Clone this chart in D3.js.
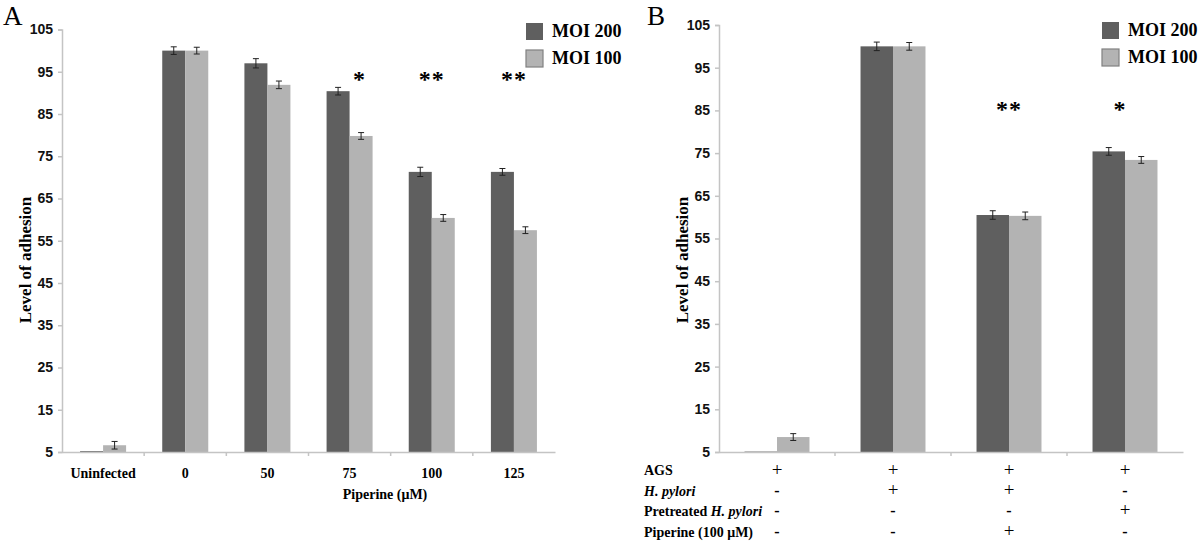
<!DOCTYPE html>
<html lang="en">
<head>
<meta charset="utf-8">
<title>Level of adhesion</title>
<script src="https://cdn.jsdelivr.net/npm/d3@7"></script>
<style>
  body { margin: 0; background: #fff; }
  svg { display: block; font-family: "Liberation Serif", "Times New Roman", serif; }
  .tick text { font-weight: bold; font-size: 14px; fill: #111; }
</style>
</head>
<body>
<script>
// panel A data
var catsA = ["Uninfected", "0", "50", "75", "100", "125"];
var moi200A = [5.2, 100, 97, 90.4, 71.3, 71.3];
var moi100A = [6.6, 100, 91.9, 79.8, 60.4, 57.5];
var err200A = [0, 0.9, 1.1, 0.9, 1.1, 0.8];
var err100A = [0.9, 0.8, 0.9, 0.8, 0.8, 0.8];
var starsA = ["", "", "", "*", "**", "**"];

// panel B data
var catsB = ["c1", "c2", "c3", "c4"];
var moi200B = [5.1, 100, 60.5, 75.4];
var moi100B = [8.5, 100, 60.3, 73.4];
var err200B = [0, 1, 1, 0.9];
var err100B = [0.8, 0.9, 0.9, 0.8];
var starsB = ["", "", "**", "*"];
var rowNames = ["AGS", "H. pylori", "Pretreated H. pylori", "Piperine (100 \u03bcM)"];
var rowMarks = [
  ["+", "+", "+", "+"],
  ["-", "+", "+", "-"],
  ["-", "-", "-", "+"],
  ["-", "-", "+", "-"]
];

var yTicks = [5, 15, 25, 35, 45, 55, 65, 75, 85, 95, 105];
var series = ["MOI 200", "MOI 100"];
var colors = ["#5f5f5f", "#b3b3b3"];

var svg = d3.select("body").append("svg")
  .attr("width", 1200).attr("height", 541);

function panel(o) {
  var x = d3.scaleBand().domain(o.cats).range([o.x0, o.x1]);
  var y = d3.scaleLinear().domain([5, 105]).range([452, o.yTop]);
  var bw = x.bandwidth() * 0.28;
  var g = svg.append("g");

  // y axis
  var ya = g.append("g").attr("transform", "translate(" + o.x0 + ",0)")
    .call(d3.axisLeft(y).tickValues(yTicks).tickSize(4).tickPadding(5));
  ya.selectAll("line, path").attr("stroke", "#c4c4c4").attr("stroke-width", 1.5);

  // bars
  o.vals.forEach(function(vals, s) {
    g.selectAll(null).data(vals).enter().append("rect")
      .attr("x", function(d, i) { return x(o.cats[i]) + x.bandwidth() / 2 - bw + s * bw; })
      .attr("y", function(d) { return y(d); })
      .attr("width", bw)
      .attr("height", function(d) { return Math.max(1, y(5) - y(d)); })
      .attr("fill", colors[s]);
  });

  // error bars
  o.vals.forEach(function(vals, s) {
    vals.forEach(function(v, i) {
      var e = o.errs[s][i];
      if (!e) return;
      var cx = x(o.cats[i]) + x.bandwidth() / 2 - bw / 2 + s * bw;
      g.append("path")
        .attr("d", "M" + cx + "," + y(v - e) + "V" + y(v + e) +
          "M" + (cx - 3) + "," + y(v + e) + "H" + (cx + 3) +
          "M" + (cx - 3) + "," + y(v - e) + "H" + (cx + 3))
        .attr("stroke", "#222").attr("stroke-width", 1).attr("fill", "none");
    });
  });

  // x axis
  var xa = g.append("g").attr("transform", "translate(0,452)")
    .call(d3.axisBottom(x).tickSize(0).tickFormat(""));
  xa.selectAll("path").attr("stroke", "#c4c4c4").attr("stroke-width", 1.5);
  xa.selectAll(".tick").remove();
  xa.selectAll(".sep").data(o.cats.slice(1)).enter().append("line")
    .attr("x1", function(d) { return x(d); }).attr("x2", function(d) { return x(d); })
    .attr("y1", 0).attr("y2", 4)
    .attr("stroke", "#c4c4c4").attr("stroke-width", 1.5);

  // stars
  g.selectAll(null).data(o.stars).enter().append("text")
    .attr("x", function(d, i) { return x(o.cats[i]) + x.bandwidth() / 2 + (d === "*" ? o.starDx : 0); })
    .attr("y", o.starY)
    .attr("text-anchor", "middle")
    .attr("font-size", 24).attr("font-weight", "bold")
    .attr("letter-spacing", 1)
    .text(function(d) { return d; });

  // legend
  series.forEach(function(name, s) {
    g.append("rect")
      .attr("x", o.legX).attr("y", o.legY + s * 27)
      .attr("width", 17).attr("height", 17)
      .attr("fill", colors[s])
      .attr("stroke", s ? "#808080" : "none").attr("stroke-width", 1.2);
    g.append("text")
      .attr("x", o.legX + 26).attr("y", o.legY + s * 27 + 14)
      .attr("font-size", 18).attr("font-weight", "bold")
      .text(name);
  });

  // panel letter
  g.append("text").attr("x", o.letterX).attr("y", 25)
    .attr("font-size", 27).text(o.letter);

  // y title
  g.append("text")
    .attr("transform", "translate(" + o.titleX + ",260) rotate(-90)")
    .attr("text-anchor", "middle")
    .attr("font-size", 17).attr("font-weight", "bold")
    .text("Level of adhesion");

  return x;
}

var xA = panel({
  cats: catsA, x0: 62, x1: 555, yTop: 29.5,
  vals: [moi200A, moi100A], errs: [err200A, err100A],
  stars: starsA, starY: 87, starDx: 10,
  legX: 526, legY: 23, letter: "A", letterX: 3, titleX: 31
});

svg.append("g").selectAll("text").data(catsA).enter().append("text")
  .attr("x", function(d) { return xA(d) + xA.bandwidth() / 2; })
  .attr("y", 478)
  .attr("text-anchor", "middle")
  .attr("font-size", 14).attr("font-weight", "bold")
  .text(function(d) { return d; });

svg.append("text").attr("x", 385).attr("y", 499)
  .attr("text-anchor", "middle")
  .attr("font-size", 14).attr("font-weight", "bold")
  .text("Piperine (\u03bcM)");

var xB = panel({
  cats: catsB, x0: 719, x1: 1183, yTop: 25,
  vals: [moi200B, moi100B], errs: [err200B, err100B],
  stars: starsB, starY: 117, starDx: -5,
  legX: 1102, legY: 22, letter: "B", letterX: 647, titleX: 688
});

// condition rows under panel B
var rowY = [475, 496, 516, 537];
rowNames.forEach(function(name, r) {
  var t = svg.append("text").attr("x", 644).attr("y", rowY[r])
    .attr("font-size", 14).attr("font-weight", "bold");
  if (name.indexOf("H. pylori") >= 0) {
    var pre = name.replace("H. pylori", "");
    if (pre) t.append("tspan").text(pre);
    t.append("tspan").attr("font-style", "italic").text("H. pylori");
  } else {
    t.text(name);
  }
  svg.append("g").selectAll("text").data(rowMarks[r]).enter().append("text")
    .attr("x", function(d, i) { return xB(catsB[i]) + xB.bandwidth() / 2; })
    .attr("y", rowY[r] + (r === 0 ? 1 : 0))
    .attr("text-anchor", "middle")
    .attr("font-size", function(d) { return d === "+" ? 19 : 16; })
    .attr("font-weight", function(d) { return d === "+" ? "normal" : "bold"; })
    .text(function(d) { return d; });
});
</script>
</body>
</html>
